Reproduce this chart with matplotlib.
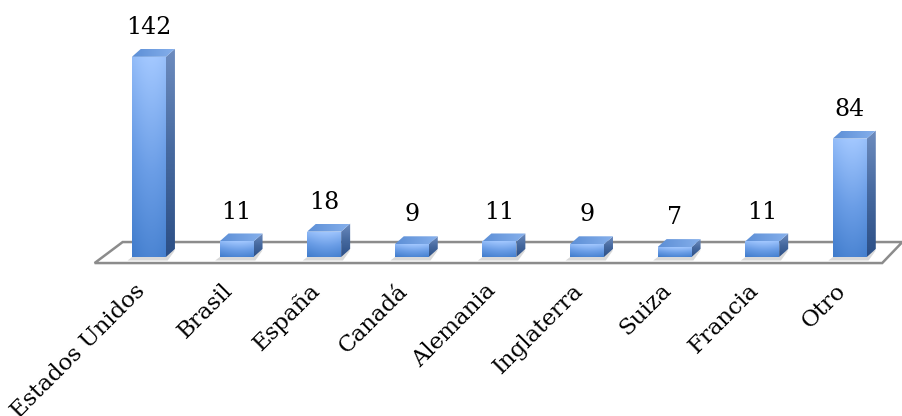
import numpy as np
import matplotlib
matplotlib.use("Agg")
import matplotlib.pyplot as plt
from matplotlib.patches import Polygon
from matplotlib.colors import LinearSegmentedColormap

categories = ["Estados Unidos", "Brasil", "España", "Canadá", "Alemania",
              "Inglaterra", "Suiza", "Francia", "Otro"]
values = [142, 11, 18, 9, 11, 9, 7, 11, 84]

plt.rcParams['font.family'] = ['DejaVu Serif']

fig = plt.figure(figsize=(9.02, 4.16), dpi=100)
ax = fig.add_axes([0, 0, 1, 1])
ax.set_xlim(-1.70, 8.596)
ax.set_ylim(-112.8, 182.3)
ax.axis('off')

px_x = 87.6   # pixels per category unit
px_y = 1.41   # pixels per value unit
dx = 9 / px_x
dy = 8 / px_y
w = 34 / px_x

# floor
floor = Polygon([(-0.62, -4.3), (8.37, -4.3), (8.60, 10.6), (-0.30, 10.6)],
                closed=True, facecolor='white', edgecolor='#8c8c8c', lw=1.8, zorder=1)
ax.add_patch(floor)

front_cmap = LinearSegmentedColormap.from_list('f', ['#3f7bcb', '#6a9de6', '#a3c8ff'])
side_cmap = LinearSegmentedColormap.from_list('s', ['#2c4f86', '#46699f', '#6d8cbf'])
top_cmap = LinearSegmentedColormap.from_list('t', ['#5d8fd6', '#86b0ec'])

grad = np.linspace(0, 1, 256).reshape(-1, 1)
hgrad = np.linspace(0, 1, 64).reshape(1, -1)

for i, v in enumerate(values):
    x0 = i - w / 2
    x1 = i + w / 2
    # shadow on floor
    sh = Polygon([(x0 - 0.05, -2.5), (x1 + 0.02, -2.5), (x1 + dx, dy - 1), (x0 + dx, dy - 1)],
                 closed=True, facecolor='#d9d9d9', edgecolor='none', zorder=2)
    ax.add_patch(sh)
    # side face
    side = Polygon([(x1, 0), (x1 + dx, dy), (x1 + dx, v + dy), (x1, v)], closed=True,
                   facecolor='none', edgecolor='none', zorder=3)
    ax.add_patch(side)
    im = ax.imshow(grad, cmap=side_cmap, aspect='auto', origin='lower',
                   extent=(x1, x1 + dx, 0, v + dy), zorder=3)
    im.set_clip_path(side)
    # front face
    front = Polygon([(x0, 0), (x1, 0), (x1, v), (x0, v)], closed=True,
                    facecolor='none', edgecolor='none', zorder=4)
    ax.add_patch(front)
    g = grad * 0.85 + 0.15 * np.sin(np.pi * hgrad * 0.9)
    im2 = ax.imshow(g, cmap=front_cmap, aspect='auto', origin='lower',
                    extent=(x0, x1, 0, v), zorder=4, vmin=0, vmax=1)
    im2.set_clip_path(front)
    # top face
    top = Polygon([(x0, v), (x1, v), (x1 + dx, v + dy), (x0 + dx, v + dy)], closed=True,
                  facecolor='none', edgecolor='none', zorder=5)
    ax.add_patch(top)
    im3 = ax.imshow(hgrad, cmap=top_cmap, aspect='auto', origin='lower',
                    extent=(x0, x1 + dx, v, v + dy), zorder=5)
    im3.set_clip_path(top)
    # value label
    ax.text(i, v + dy + 7, str(v), ha='center', va='bottom', fontsize=17, color='black', zorder=6)
    # category label
    ax.text(i - 0.17, -16, categories[i], ha='right', va='top', rotation=45,
            rotation_mode='anchor', fontsize=16.5, color='black')

fig.savefig('out.png', dpi=100)
